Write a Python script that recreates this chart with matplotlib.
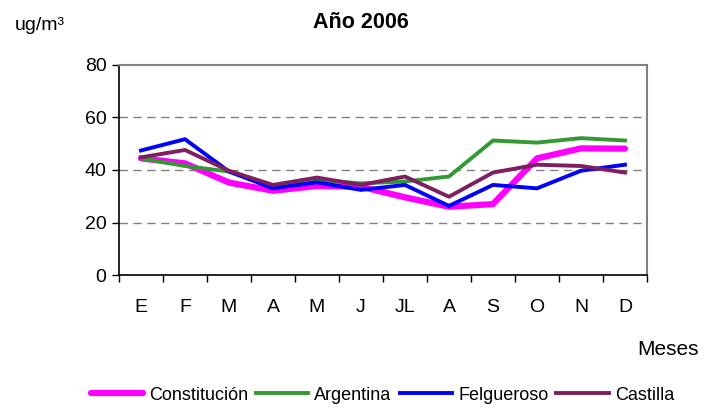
import numpy as np
import matplotlib.pyplot as plt
from matplotlib.ticker import FixedLocator

plt.rcParams['font.family'] = ['Liberation Sans', 'DejaVu Sans']

meses = ['E', 'F', 'M', 'A', 'M', 'J', 'JL', 'A', 'S', 'O', 'N', 'D']
constitucion = [44.4, 42.5, 35.2, 32.1, 33.9, 33.6, 29.6, 26.0, 27.0, 44.4, 48.2, 48.1]
argentina = [44.4, 41.5, 39.4, 33.6, 36.2, 34.9, 35.6, 37.5, 51.2, 50.4, 52.1, 51.2]
felgueroso = [47.4, 51.7, 39.4, 33.0, 35.3, 32.4, 34.3, 26.3, 34.3, 33.0, 39.7, 42.0]
castilla = [44.8, 47.6, 39.7, 34.3, 37.1, 34.3, 37.5, 29.8, 39.0, 42.0, 41.5, 39.0]

fig = plt.figure(figsize=(7.04, 4.13), dpi=100)
ax = fig.add_axes([0.169, 0.334, 0.750, 0.509])

x = np.arange(len(meses))
ax.plot(x, constitucion, color='#FF00FF', lw=4.5, label='Constitución', solid_capstyle='round', zorder=3)
ax.plot(x, argentina, color='#339933', lw=2.8, label='Argentina', zorder=4)
ax.plot(x, felgueroso, color='#0000FF', lw=2.8, label='Felgueroso', zorder=5)
ax.plot(x, castilla, color='#7F1F5F', lw=2.8, label='Castilla', zorder=6)

ax.set_xlim(-0.5, len(meses) - 0.5)
ax.set_ylim(0, 80)
ax.set_yticks([0, 20, 40, 60, 80])
ax.set_xticks(x)
ax.set_xticklabels(meses)
# marcas entre meses, etiquetas centradas
ax.xaxis.set_minor_locator(FixedLocator(np.arange(-0.5, len(meses), 1)))
ax.tick_params(axis='x', which='major', length=0, pad=17, labelsize=14)
ax.tick_params(axis='x', which='minor', length=5, width=1, direction='out')
ax.tick_params(axis='y', length=5, width=1, direction='out', labelsize=14, pad=4)

for v in [20, 40, 60]:
    ax.axhline(v, color='#808080', lw=1, ls=(0, (6, 4)), zorder=1)

ax.spines['top'].set_color('#808080')
ax.spines['right'].set_color('#808080')
ax.spines['top'].set_linewidth(1.5)
ax.spines['right'].set_linewidth(1.5)
ax.spines['left'].set_linewidth(1.2)
ax.spines['bottom'].set_linewidth(1.2)

fig.text(0.512, 1 - 28 / 413, 'Año 2006', ha='center', va='baseline', fontsize=15.5, fontweight='bold')
fig.text(0.021, 1 - 30 / 413, 'ug/m³', ha='left', va='baseline', fontsize=14)
fig.text(0.993, 1 - 355 / 413, 'Meses', ha='right', va='baseline', fontsize=15)

fig.legend(loc='center', bbox_to_anchor=(0.543, 0.043), ncol=4, frameon=False,
           fontsize=13, handlelength=2.9, handletextpad=0.33, columnspacing=0.45)

fig.savefig('out.png', dpi=100)
